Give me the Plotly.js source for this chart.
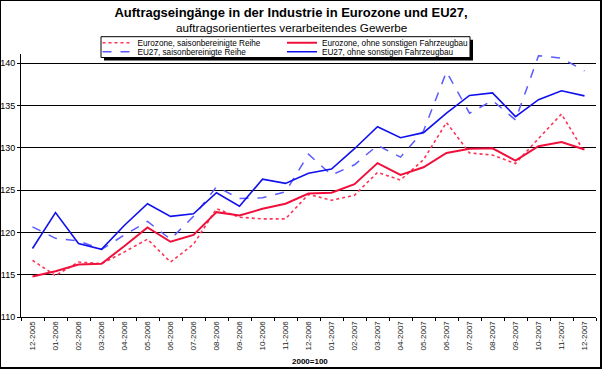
<!DOCTYPE html>
<html>
<head>
<meta charset="utf-8">
<script src="https://cdn.plot.ly/plotly-3.0.1.min.js"></script>
<style>
  html, body { margin: 0; padding: 0; background: #fff; }
  #frame { position: absolute; left: 0; top: 0; width: 599px; height: 366px;
           border-left: 1px solid #000; border-top: 1px solid #000;
           border-right: 2px solid #000; border-bottom: 2px solid #000; }
  #chart { width: 599px; height: 366px; }
</style>
</head>
<body>
<div id="frame"><div id="chart"></div></div>
<script>
// ---- data ----
const months = ["12-2005","01-2006","02-2006","03-2006","04-2006","05-2006","06-2006","07-2006",
  "08-2006","09-2006","10-2006","11-2006","12-2006","01-2007","02-2007","03-2007","04-2007",
  "05-2007","06-2007","07-2007","08-2007","09-2007","10-2007","11-2007","12-2007"];

const eurozoneSA = [116.7,114.9,116.5,116.3,117.7,119.2,116.5,118.6,122.8,121.8,121.6,121.6,124.5,
  123.8,124.4,127.1,126.2,128.6,133.0,129.4,129.15,128.15,131.1,134.0,129.5];

const eurozoneOhne = [114.8,115.4,116.2,116.3,118.4,120.6,118.9,119.7,122.4,122.0,122.8,123.4,124.6,
  124.7,125.7,128.2,126.8,127.7,129.4,129.9,129.95,128.5,130.2,130.7,129.8];

const eu27SA = [120.65,119.3,119.0,118.0,119.7,121.3,119.2,121.9,125.4,124.0,124.1,124.8,129.25,
  126.8,128.0,130.3,128.9,132.0,139.0,134.1,135.6,133.3,140.9,140.6,139.1];

const eu27Ohne = [118.1,122.35,118.7,118.0,120.85,123.4,121.9,122.2,124.7,123.1,126.3,125.8,127.0,
  127.5,129.9,132.5,131.2,131.8,134.1,136.2,136.5,133.7,135.7,136.75,136.15];

const yTicks = [110,115,120,125,130,135,140];

const seriesNames = ["Eurozone, saisonbereinigte Reihe","Eurozone, ohne sonstigen Fahrzeugbau",
  "EU27, saisonbereinigte Reihe","EU27, ohne sonstigen Fahrzeugbau"];

const titleText = "<b>Auftragseingänge in der Industrie in Eurozone und EU27,</b>";
const subtitleText = "auftragsorientiertes verarbeitendes Gewerbe";
const baseText = "<b>2000=100</b>";

// ---- chart ----
const FONT = "Arial, 'Liberation Sans', sans-serif";

const traces = [
  {x: months, y: eurozoneSA, name: seriesNames[0], type: "scatter", mode: "lines",
   line: {color: "#ff3355", width: 1.6, dash: "dot"}, legend: "legend"},
  {x: months, y: eurozoneOhne, name: seriesNames[1], type: "scatter", mode: "lines",
   line: {color: "#f0103c", width: 2}, legend: "legend2"},
  {x: months, y: eu27SA, name: seriesNames[2], type: "scatter", mode: "lines",
   line: {color: "#5a5aff", width: 1.5, dash: "dash"}, legend: "legend3"},
  {x: months, y: eu27Ohne, name: seriesNames[3], type: "scatter", mode: "lines",
   line: {color: "#1010ee", width: 1.6}, legend: "legend4"}
];

function px(X) { return (X - 21) / 575; }
function py(Y) { return (317 - Y) / 263; }

function leg(X, Y) {
  return {x: px(X), y: py(Y), xanchor: "left", yanchor: "middle", orientation: "v",
          bgcolor: "rgba(0,0,0,0)", borderwidth: 0,
          font: {family: FONT, size: 8.2, color: "#000"}};
}

const layout = {
  width: 599, height: 366,
  margin: {l: 20, r: 4, t: 53, b: 50},
  paper_bgcolor: "#fff", plot_bgcolor: "#fff",
  font: {family: FONT, size: 9, color: "#000"},
  title: {text: titleText, x: 290/599, xanchor: "center", y: 1 - 11.5/366, yanchor: "middle",
          font: {family: FONT, size: 13, color: "#000"}},
  xaxis: {type: "category", tickson: "boundaries", ticks: "outside", ticklen: 3,
          tickcolor: "#000", tickangle: -90, showline: true, linecolor: "#000", linewidth: 1,
          showgrid: false, zeroline: false, tickfont: {family: FONT, size: 8, color: "#222"},
          range: [-0.5, months.length - 0.5], fixedrange: true},
  yaxis: {range: [110, 141.1], tickvals: yTicks, ticks: "outside", ticklen: 3, tickcolor: "#000",
          showline: true, linecolor: "#000", linewidth: 1, showgrid: true, gridcolor: "#000",
          gridwidth: 1, zeroline: false, tickfont: {family: FONT, size: 9, color: "#000"},
          fixedrange: true},
  showlegend: true,
  legend: leg(97.5, 42.7),
  legend2: leg(282, 42.7),
  legend3: leg(97.5, 51.7),
  legend4: leg(282, 51.7),
  shapes: [
    {type: "rect", xref: "paper", yref: "paper", layer: "above",
     x0: px(104), x1: px(473), y0: py(60.5), y1: py(39.7),
     fillcolor: "#000", line: {width: 0}},
    {type: "rect", xref: "paper", yref: "paper", layer: "above",
     x0: px(101), x1: px(470), y0: py(57.5), y1: py(36.7),
     fillcolor: "#fff", line: {color: "#000", width: 1}}
  ],
  annotations: [
    {text: subtitleText, xref: "paper", yref: "paper", x: px(291), y: py(27.3),
     xanchor: "center", yanchor: "middle", showarrow: false,
     font: {family: FONT, size: 11.7, color: "#000"}},
    {text: baseText, xref: "paper", yref: "paper", x: px(310), y: py(361),
     xanchor: "center", yanchor: "middle", showarrow: false,
     font: {family: FONT, size: 8, color: "#000"}}
  ]
};

Plotly.newPlot("chart", traces, layout, {displayModeBar: false, staticPlot: true});
</script>
</body>
</html>
